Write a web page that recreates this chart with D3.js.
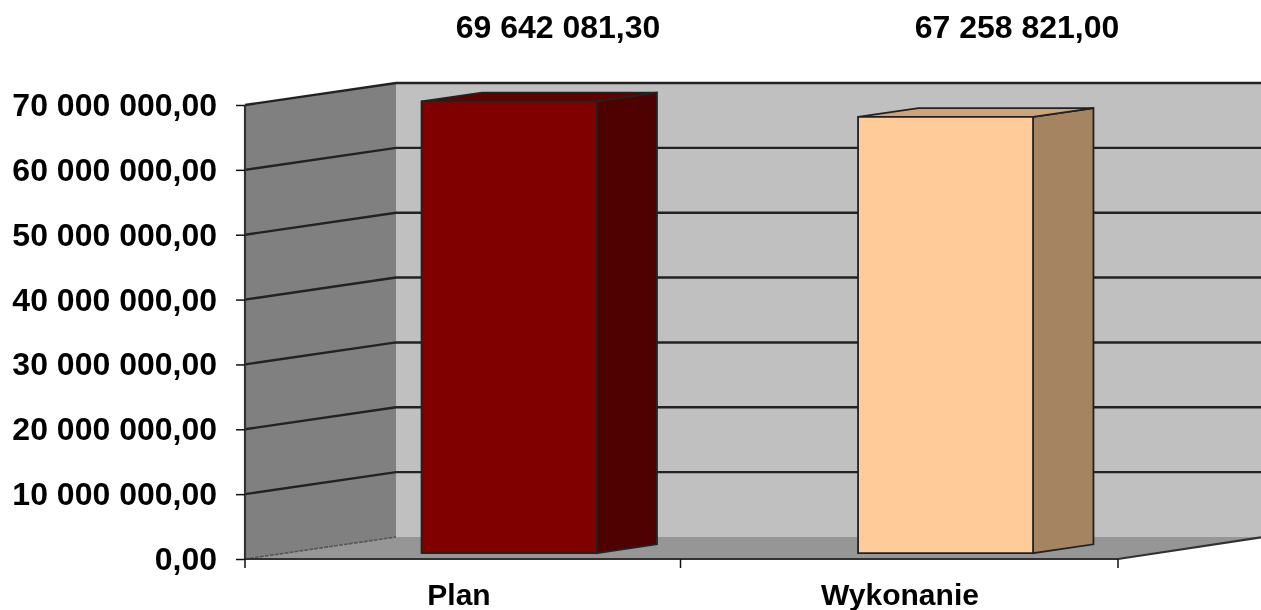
<!DOCTYPE html>
<html><head><meta charset="utf-8"><style>html,body{margin:0;background:#fff;overflow:hidden}svg{display:block}</style>
<script src="https://d3js.org/d3.v7.min.js"></script></head><body><svg id="c" width="1261" height="610"></svg>
<script>
const categories=["Plan","Wykonanie"];
const values=[69642081.30,67258821.00];
const valueLabels=["69 642 081,30","67 258 821,00"];
const tickValues=[0,10000000,20000000,30000000,40000000,50000000,60000000,70000000];
const tickLabels=["0,00","10 000 000,00","20 000 000,00","30 000 000,00","40 000 000,00","50 000 000,00","60 000 000,00","70 000 000,00"];
const frontColors=["#800000","#ffcc99"];
const sideColors=["#500000","#a58462"];
const topColors=["#600000","#cda47a"];

const svg=d3.select("#c");
const defs=svg.append("defs");
defs.append("filter").attr("id","soft").append("feGaussianBlur").attr("stdDeviation",0.7);
defs.append("filter").attr("id","softT").append("feGaussianBlur").attr("stdDeviation",0.55);
const y=d3.scaleLinear().domain([0,70000000]).range([559,105]);
const x=d3.scaleBand().domain(categories).range([245,1118]);
const depthX=151,depthY=-22;
const g=svg.append("g").attr("filter","url(#soft)");
const line=d3.line();
const poly=(pts,fill,stroke,w)=>g.append("path").attr("d",line(pts)+"Z").attr("fill",fill).attr("stroke",stroke||"none").attr("stroke-width",w||0);
const X0=x.range()[0],X1=x.range()[1],R=1261;
// back wall, side wall, floor
poly([[X0+depthX,y(70000000)+depthY],[R+5,y(70000000)+depthY],[R+5,y(0)+depthY],[X0+depthX,y(0)+depthY]],"#c0c0c0");
poly([[X0,y(0)],[X0+depthX,y(0)+depthY],[R,y(0)+depthY],[X1,y(0)]],"#969696");
poly([[X0,y(0)],[X0,y(70000000)],[X0+depthX,y(70000000)+depthY],[X0+depthX,y(0)+depthY]],"#808080");
// gridlines
tickValues.forEach(v=>{
  const yy=y(v);
  if(v>0) g.append("path").attr("d",line([[X0,yy],[X0+depthX,yy+depthY],[R+5,yy+depthY]])).attr("fill","none").attr("stroke","#222").attr("stroke-width",2.4);
  else g.append("path").attr("d",line([[X0,yy],[X0+depthX,yy+depthY]])).attr("fill","none").attr("stroke","#555").attr("stroke-width",1.6).attr("stroke-dasharray","4 1");
});
// axes lines
g.append("path").attr("d",line([[X0,y(70000000)],[X0,y(0)],[X1,y(0)],[R,y(0)+depthY*0.98]])).attr("fill","none").attr("stroke","#333").attr("stroke-width",2.2);
// bars
const barW=175,t0=0.3,t1=0.7,barDrop=0.7;
categories.forEach((c,i)=>{
  const xl=x(c)+x.bandwidth()/2-barW/2+depthX*t0+0.5, xr=xl+barW;
  const b=y(0)+depthY*t0+barDrop, tp=y(values[i])+depthY*t0+barDrop;
  const dx=depthX*(t1-t0),dy=depthY*(t1-t0);
  poly([[xr,b],[xr,tp],[xr+dx,tp+dy],[xr+dx,b+dy]],sideColors[i],"#222",1.8);
  poly([[xl,tp],[xr,tp],[xr+dx,tp+dy],[xl+dx,tp+dy]],topColors[i],"#222",1.8);
  poly([[xl,b],[xl,tp],[xr,tp],[xr,b]],frontColors[i],"#222",1.8);
});
// ticks
const tg=svg.append("g");
const axL=d3.axisLeft(y).tickValues(tickValues).tickSize(9).tickFormat("");
tg.append("g").attr("transform",`translate(${X0},0)`).call(axL).call(s=>s.select(".domain").remove()).selectAll("line").attr("stroke","#111").attr("stroke-width",1.5);
const catTicks=[X0,(X0+X1)/2-1,X1];
tg.selectAll(".ct").data(catTicks).join("line").attr("x1",d=>d).attr("x2",d=>d).attr("y1",y(0)).attr("y2",y(0)+9).attr("stroke","#111").attr("stroke-width",1.5);
// text
const tx=svg.append("g").attr("filter","url(#softT)").attr("font-family","Liberation Sans").attr("fill","#000");
tx.selectAll(".yl").data(tickValues).join("text").attr("x",217).attr("y",d=>y(d)+11).attr("text-anchor","end")
 .attr("font-size",32).attr("font-weight","bold").text((d,i)=>tickLabels[i]);
tx.selectAll(".cl").data(categories).join("text").attr("x",(d,i)=>[459,900][i]).attr("y",605).attr("text-anchor","middle")
 .attr("font-size",30).attr("font-weight","bold").text(d=>d);
tx.selectAll(".vl").data(valueLabels).join("text").attr("x",(d,i)=>[558,1017][i]).attr("y",38).attr("text-anchor","middle")
 .attr("font-size",32).attr("font-weight","bold").text(d=>d);
</script></body></html>
